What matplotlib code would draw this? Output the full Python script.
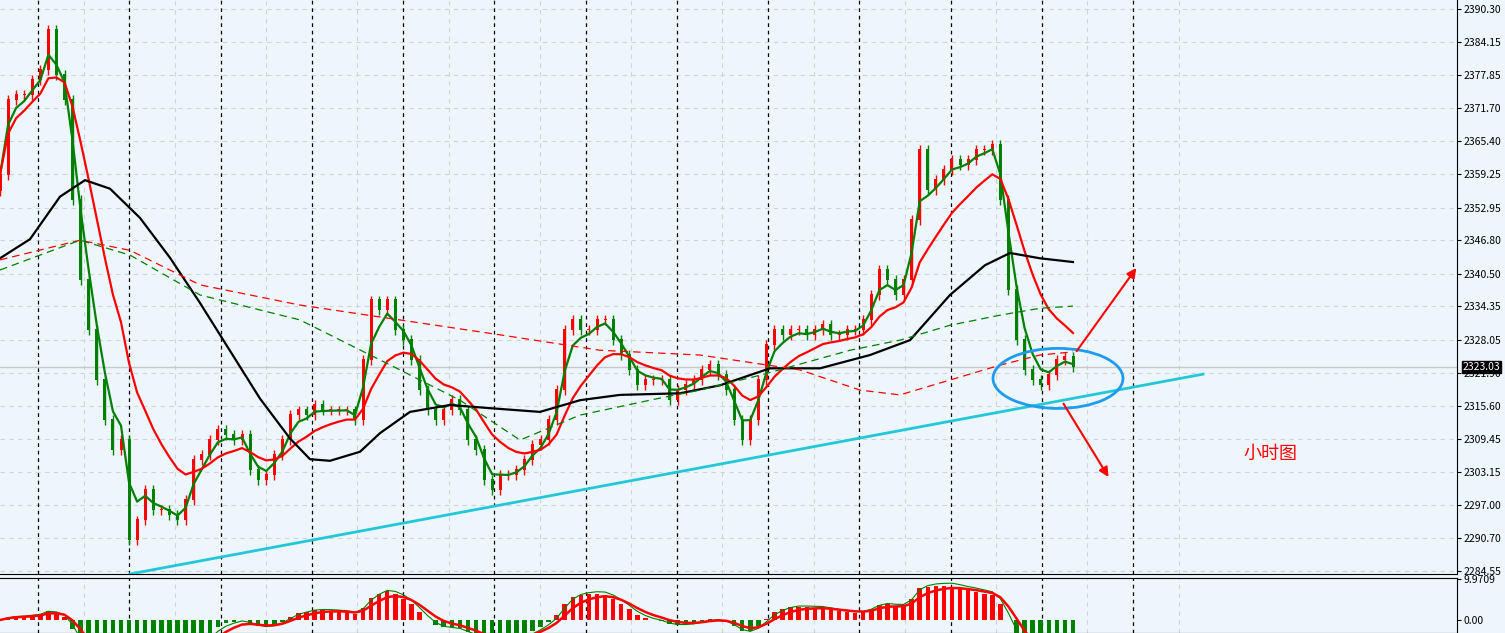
import matplotlib
matplotlib.use("Agg")
import matplotlib.pyplot as plt
import numpy as np
import pandas as pd
from matplotlib.patches import Ellipse

plt.rcParams['font.family'] = ['Noto Sans CJK SC', 'DejaVu Sans']

closes = [2359.1,2373.2,2374.1,2374.1,2376.9,2378.8,2386.4,2377.9,2373.2,2354.4,2339.3,2329.9,2320.5,2313.0,2307.3,2309.2,2290.4,2294.1,2299.8,2296.0,2296.0,2295.1,2294.1,2297.9,2305.4,2306.4,2309.2,2311.1,2310.1,2309.2,2310.1,2303.6,2301.7,2302.6,2306.4,2309.2,2313.9,2314.8,2313.9,2315.8,2314.8,2314.8,2314.8,2314.8,2313.0,2324.3,2335.5,2333.7,2335.5,2329.9,2328.0,2324.3,2318.6,2314.8,2313.0,2314.8,2316.7,2314.8,2309.2,2307.3,2301.7,2299.8,2302.6,2302.6,2303.6,2305.4,2308.3,2309.2,2313.0,2318.6,2329.9,2331.8,2329.9,2329.9,2331.8,2331.8,2328.0,2325.2,2322.4,2319.6,2320.5,2320.5,2320.5,2316.7,2318.6,2319.6,2320.5,2322.4,2323.3,2321.4,2318.6,2313.0,2309.2,2313.0,2320.5,2327.1,2329.9,2329.0,2329.9,2329.9,2329.0,2329.9,2330.8,2329.0,2329.0,2329.9,2329.9,2331.8,2336.5,2341.2,2339.3,2336.5,2339.3,2350.6,2363.8,2356.2,2358.1,2360.0,2361.9,2361.0,2361.9,2363.8,2363.8,2364.7,2354.4,2337.4,2328.0,2322.4,2320.5,2319.6,2321.4,2324.3,2324.8,2323.0]
first_open = 2356.0

black_t = [0,30,60,85,110,140,170,200,230,260,290,310,330,360,380,410,450,490,540,580,620,680,720,770,820,870,910,950,985,1010,1040,1073]
black_p = [2343.4,2347.0,2355.0,2358.1,2356.5,2351.0,2343.5,2335.0,2326.0,2317.0,2309.5,2305.6,2305.3,2307.0,2310.5,2314.5,2315.8,2315.2,2314.5,2316.7,2317.7,2318.0,2319.5,2322.7,2322.7,2325.2,2328.0,2336.5,2342.1,2344.4,2343.4,2342.7]
rdash_t = [0,80,130,200,300,400,500,600,700,800,860,900,950,1000,1040,1073]
rdash_p = [2343.1,2346.8,2344.9,2338.4,2334.6,2331.8,2329.0,2326.1,2325.2,2322.4,2318.6,2317.7,2320.5,2323.3,2325.2,2325.8]
gdash_t = [0,80,130,200,300,400,460,520,580,660,700,760,850,900,950,1000,1040,1073]
gdash_p = [2341.2,2346.8,2344.0,2336.5,2331.8,2322.4,2316.7,2309.2,2313.9,2317.1,2318.6,2321.4,2326.1,2328.0,2330.8,2332.7,2334.0,2334.4]
trend_t = [130, 1203]
trend_p = [2284.0, 2321.6]
yticks = [2390.30,2384.15,2377.85,2371.70,2365.40,2359.25,2352.95,2346.80,2340.50,2334.35,2328.05,2321.90,2315.60,2309.45,2303.15,2297.00,2290.70,2284.55]
last_price = 2323.03
day_t = [38 + 91.25*k for k in range(13)]

bg = '#EEF6FD'
fig = plt.figure(figsize=(15.05, 6.33), dpi=100)
fig.patch.set_facecolor(bg)
ax = fig.add_axes([0, 59/633, 1457/1505, 574/633])
ax2 = fig.add_axes([0, 0, 1457/1505, 55/633])
for a in (ax, ax2):
    a.set_facecolor(bg)
    a.set_xlim(0, 1457)
    for s_ in ('left', 'top'):
        a.spines[s_].set_visible(False)
    a.spines['right'].set_color('black')
    a.spines['bottom'].set_color('black')
    a.yaxis.tick_right()
    a.tick_params(axis='y', labelsize=7.5, length=3, pad=2)
    a.set_xticks([])
    for d in day_t:
        a.axvline(d, color='black', ls=(0, (3, 3)), lw=0.9, zorder=1)
        a.axvline(d + 45.6, color='#d0d4d8', ls=(0, (4, 4)), lw=0.8, zorder=0)
ax2.spines['top'].set_visible(True)
ax2.spines['top'].set_color('black')

ax.set_ylim(2284.0, 2392.0)
ax.set_yticks(yticks)
ax.set_yticklabels([f"{v:.2f}" for v in yticks])
for v in yticks:
    ax.axhline(v, color='#d0d4d8', ls=(0, (4, 4)), lw=0.8, zorder=0)

n = len(closes)
t = np.linspace(0, 1073, n)
c = np.array(closes)
o = np.concatenate([[first_open], c[:-1]])
w = 3.0
for i in range(n):
    col = 'red' if c[i] >= o[i] else 'green'
    hi, lo = max(o[i], c[i]) + 0.9, min(o[i], c[i]) - 0.9
    ax.vlines(t[i], lo, hi, color=col, lw=1, zorder=3)
    ax.bar(t[i], abs(c[i] - o[i]) + 0.2, bottom=min(o[i], c[i]), width=w, color=col, zorder=3)

s = pd.Series(c)
ax.plot(t, s.ewm(span=3).mean(), color='green', lw=1.6, zorder=4)
ax.plot(t, s.ewm(span=10).mean(), color='red', lw=1.6, zorder=4)
ax.plot(black_t, black_p, color='black', lw=1.6, zorder=4)
ax.plot(rdash_t, rdash_p, color='red', lw=0.9, ls=(0, (6, 4)), zorder=4)
ax.plot(gdash_t, gdash_p, color='green', lw=0.9, ls=(0, (6, 4)), zorder=4)
ax.plot(trend_t, trend_p, color='#22C8D8', lw=2, zorder=5)

ax.axhline(last_price, color='#c8c8c8', lw=1, zorder=1)
ax.text(1.004, (last_price - 2284.0) / 108.0, f"{last_price:.2f}", transform=ax.transAxes,
        fontsize=7.5, color='white', va='center', ha='left',
        bbox=dict(boxstyle='square,pad=0.1', fc='black', ec='black'), zorder=10, clip_on=False)

ax.add_patch(Ellipse((1058, 2320.8), 130, 11.3, fill=False, ec='#1E9BEF', lw=2, zorder=6))
ax.annotate('', xy=(1138, 2342.0), xytext=(1075, 2325.5),
            arrowprops=dict(arrowstyle='-|>', color='red', lw=1.5, mutation_scale=14), zorder=7)
ax.annotate('', xy=(1110, 2301.8), xytext=(1062, 2316.5),
            arrowprops=dict(arrowstyle='-|>', color='red', lw=1.5, mutation_scale=14), zorder=7)
ax.text(1270, 2306.5, '小时图', color='red', fontsize=13, ha='center', va='center')

# indicator panel
macd = s.ewm(span=6).mean() - s.ewm(span=13).mean()
sig = macd.ewm(span=4).mean()
hist = macd.values
T = max(hist.max(), 1) * 1.25
ax2.set_ylim(-T * 13 / 42, T)
ax2.set_yticks([T * 0.97, 0])
ax2.set_yticklabels(['9.9709', '0.00'])
cols = ['red' if h >= 0 else 'green' for h in hist]
ax2.bar(t, hist, width=4.5, color=cols, zorder=3)
ax2.plot(t, macd.ewm(span=2).mean() * 1.1, color='green', lw=0.8, zorder=4)
ax2.plot(t, sig, color='red', lw=1.8, zorder=4)

fig.savefig('out.png', dpi=100, facecolor=bg)
